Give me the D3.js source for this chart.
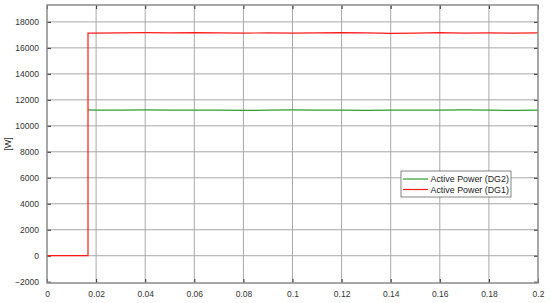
<!DOCTYPE html>
<html>
<head>
<meta charset="utf-8">
<script src="https://cdn.jsdelivr.net/npm/d3@7"></script>
<style>
  body { margin: 0; background: #fff; }
  svg { display: block; font-family: "Liberation Sans", Arial, sans-serif; }
</style>
</head>
<body>
<div id="chart"></div>
<script>
'use strict';

// time samples [s]
var timeValues = [0, 0.0167, 0.0167, 0.02, 0.03, 0.04, 0.05, 0.06, 0.07, 0.08, 0.09, 0.1,
    0.11, 0.12, 0.13, 0.14, 0.15, 0.16, 0.17, 0.18, 0.19, 0.2];
// Active Power (DG1) [W]
var dg1Values = [0, 0, 17130, 17140, 17150, 17170, 17160, 17180, 17150, 17140, 17150, 17130,
    17160, 17180, 17150, 17110, 17130, 17170, 17140, 17150, 17130, 17150];
// Active Power (DG2) [W] -- hidden under DG1 before the step
var dg2Values = [null, null, 11220, 11210, 11200, 11220, 11200, 11210, 11200, 11190, 11200, 11220,
    11210, 11200, 11190, 11200, 11210, 11200, 11220, 11200, 11190, 11200];
var xTicks = [0, 0.02, 0.04, 0.06, 0.08, 0.1, 0.12, 0.14, 0.16, 0.18, 0.2];
var yTicks = [-2000, 0, 2000, 4000, 6000, 8000, 10000, 12000, 14000, 16000, 18000];
var seriesNames = ["Active Power (DG2)", "Active Power (DG1)"];
var seriesColors = ["#2ca02c", "#ff1a1a"];

drawChart();

function drawChart() {

    var width = 550, height = 303;
    var margin = {left: 47, right: 12, top: 5, bottom: 20};
    var plotW = width - margin.left - margin.right;
    var plotH = height - margin.top - margin.bottom;

    var svg = d3.select("#chart")
        .append("svg")
        .attr("width", width)
        .attr("height", height);

    var x = d3.scaleLinear().domain([0, 0.2]).range([0, plotW]);
    var y = d3.scaleLinear().domain([-2100, 19300]).range([plotH, 0]);

    var g = svg.append("g")
        .attr("transform", "translate(" + margin.left + "," + margin.top + ")");

    // grid
    g.selectAll(".vgrid")
        .data(xTicks.slice(1, -1))
        .enter().append("line")
        .attr("x1", function(d) { return x(d); })
        .attr("x2", function(d) { return x(d); })
        .attr("y1", 0).attr("y2", plotH)
        .style("stroke", "#a8a8a8").style("stroke-width", 1);

    g.selectAll(".hgrid")
        .data(yTicks.slice(1))
        .enter().append("line")
        .attr("x1", 0).attr("x2", plotW)
        .attr("y1", function(d) { return y(d); })
        .attr("y2", function(d) { return y(d); })
        .style("stroke", "#a8a8a8").style("stroke-width", 1);

    // axes
    var xAxis = d3.axisBottom(x).tickValues(xTicks).tickSize(-4).tickPadding(8)
        .tickFormat(function(d) { return d3.format("")(+d.toFixed(2)); });
    var yAxis = d3.axisLeft(y).tickValues(yTicks).tickSize(-4).tickPadding(8)
        .tickFormat(d3.format("d"));

    var gx = g.append("g").attr("transform", "translate(0," + plotH + ")").call(xAxis);
    var gy = g.append("g").call(yAxis);
    [gx, gy].forEach(function(a) {
        a.select(".domain").remove();
        a.selectAll(".tick line").style("stroke", "#333");
        a.selectAll("text").style("font-size", "8.5px").style("fill", "#333");
    });

    // right side ticks
    g.append("g").attr("transform", "translate(" + plotW + ",0)")
        .call(d3.axisRight(y).tickValues(yTicks).tickSize(-4).tickFormat(""))
        .call(function(a) { a.select(".domain").remove(); a.selectAll("line").style("stroke", "#333"); });
    g.append("g")
        .call(d3.axisTop(x).tickValues(xTicks).tickSize(-4).tickFormat(""))
        .call(function(a) { a.select(".domain").remove(); a.selectAll("line").style("stroke", "#333"); });

    // lines
    var series = [dg2Values, dg1Values];
    var line = d3.line()
        .defined(function(d) { return d !== null; })
        .x(function(d, i) { return x(timeValues[i]); })
        .y(function(d) { return y(d); });

    series.forEach(function(s, k) {
        g.append("path")
            .datum(s)
            .attr("d", line)
            .style("fill", "none")
            .style("stroke", seriesColors[k])
            .style("stroke-width", 1.2);
    });

    // frame
    g.append("rect")
        .attr("width", plotW).attr("height", plotH)
        .style("fill", "none").style("stroke", "#8a8a8a").style("stroke-width", 1.5);

    // y label
    svg.append("text")
        .attr("transform", "translate(11," + (margin.top + plotH / 2) + ") rotate(-90)")
        .attr("text-anchor", "middle")
        .style("font-size", "9px")
        .style("fill", "#333")
        .text("[W]");

    // legend
    var lg = svg.append("g").attr("transform", "translate(401,171)");
    lg.append("rect")
        .attr("width", 110).attr("height", 26)
        .style("fill", "#fff").style("stroke", "#666").style("stroke-width", 0.8);
    seriesNames.forEach(function(name, k) {
        lg.append("line")
            .attr("x1", 2).attr("x2", 27)
            .attr("y1", 8 + k * 10.5).attr("y2", 8 + k * 10.5)
            .style("stroke", seriesColors[k]).style("stroke-width", 1.2);
        lg.append("text")
            .attr("x", 29.5).attr("y", 11.2 + k * 10.5)
            .style("font-size", "8.9px")
            .style("fill", "#222")
            .text(name);
    });
}
</script>
</body>
</html>
